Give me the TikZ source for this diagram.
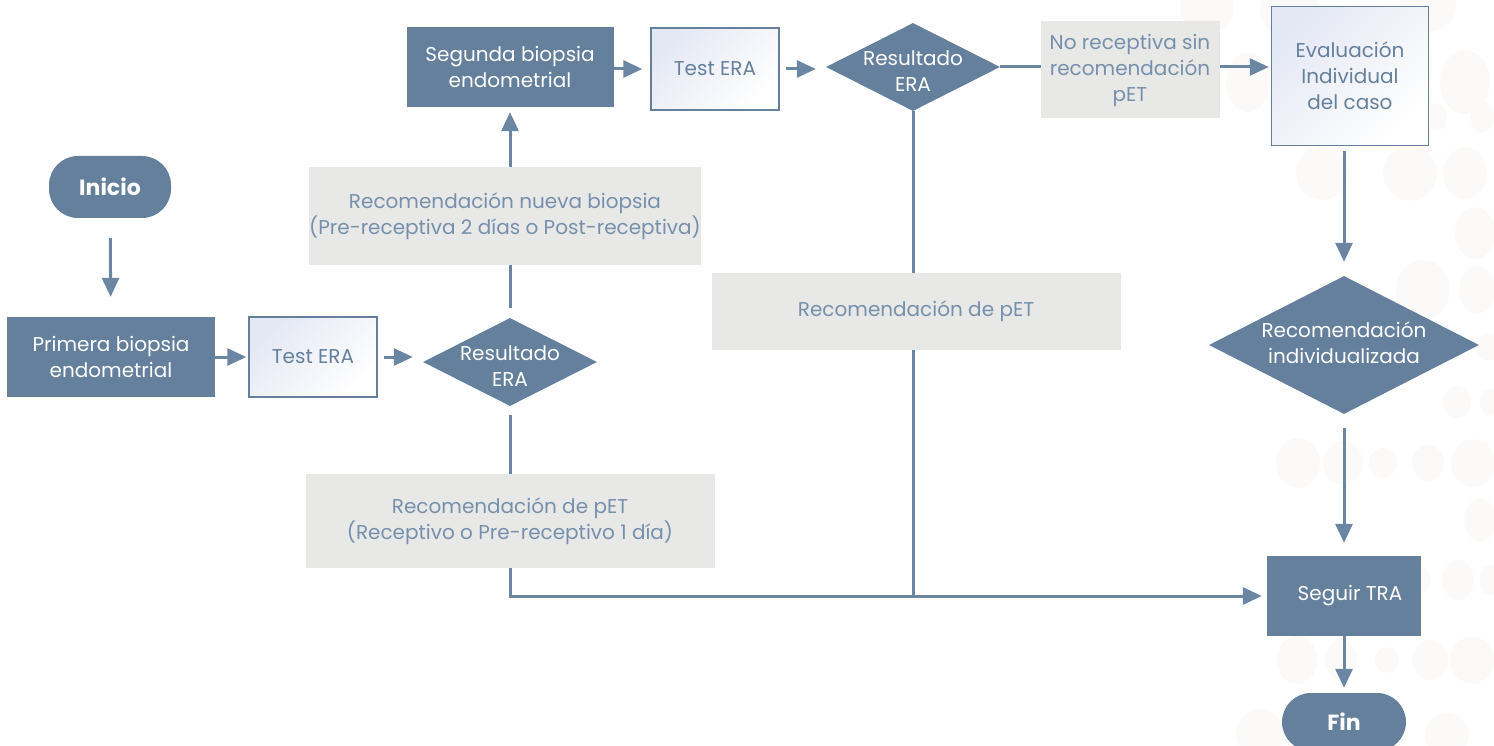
\documentclass[tikz,border=0pt]{standalone}
\usepackage{fontspec}
\setmainfont{Poppins}
\usepackage{tikz}
\usetikzlibrary{shapes.geometric}
\usetikzlibrary{arrows.meta}
\usetikzlibrary{positioning}

\definecolor{slate}{HTML}{64809C}
\definecolor{slateline}{HTML}{6A86A2}
\definecolor{slatetext}{HTML}{7590AC}
\definecolor{notegray}{HTML}{E8E8E7}
\definecolor{tint}{HTML}{E4E8F4}
\definecolor{dotc}{HTML}{FBFAF9}

\pgfdeclarelayer{deco}
\pgfdeclarelayer{edges}
\pgfsetlayers{deco,edges,main}

\begin{document}
\begin{tikzpicture}[x=1pt, y=-1pt,
        every node/.style={font=\fontsize{20}{26}\selectfont, align=center, inner sep=0pt},
        term/.style={rectangle, rounded corners=29pt, fill=slate, text=white, font=\bfseries\fontsize{22}{26}\selectfont, minimum width=122pt, minimum height=62pt},
        proc/.style={rectangle, fill=slate, text=white, minimum width=208pt, minimum height=80pt},
        test/.style={rectangle, draw=slate, line width=1.5pt, top color=tint, bottom color=white, shading angle=45, text=slate, minimum width=128pt, minimum height=80pt},
        decision/.style 2 args={diamond, fill=slate, aspect=2, minimum width=174pt, minimum height=88pt, label={[text=white, yshift=#2]center:#1}},
        note/.style={rectangle, fill=notegray, text=slatetext},
        flow/.style={draw=slateline, line width=3pt, -{Triangle[length=19pt,width=17pt]}, shorten >=5pt},
        line/.style={draw=slateline, line width=3pt}
      ]
        \useasboundingbox (0,0) rectangle (1494,746);

        \begin{pgfonlayer}{deco}
          \foreach \x/\y/\rx/\ry in {1207/8/27/26, 1290/10/30/28, 1428/6/28/26,
              1248/82/22/30, 1465/82/25/32, 1315/117/22/26, 1378/117/12/16, 1437/117/10/14, 1482/117/12/16,
              1322/173/26/27, 1410/173/27/28, 1465/173/22/26, 1475/233/20/26,
              1423/290/27/30, 1477/290/18/24, 1377/347/20/22, 1413/347/15/16, 1452/347/12/13, 1488/347/12/14,
              1457/402/14/16, 1490/402/10/14, 1298/463/22/25, 1343/463/20/22, 1383/463/14/15, 1428/463/16/18, 1473/463/22/24,
              1480/520/16/22, 1421/580/10/12, 1458/580/16/20, 1490/580/10/16,
              1297/660/20/24, 1341/660/16/20, 1387/660/12/13, 1430/660/18/20, 1472/660/22/24,
              1260/733/24/24, 1447/735/22/22}
            \fill[dotc] (\x,\y) ellipse ({\rx pt} and {\ry pt});
        \end{pgfonlayer}

        \node[term]                                                  (inicio) at (110,187)  {Inicio};
        \node[proc]                                                  (prim)   at (111,357)  {Primera biopsia\\endometrial};
        \node[test]                                                  (test1)  at (313,357)  {Test ERA};
        \node[decision={Resultado\\ERA}{-4pt}]                       (res1)   at (510,362)  {};
        \node[note, minimum width=389pt, minimum height=98pt]        (nueva)  at (505,216)  {Recomendación nueva biopsia\\(Pre-receptiva 2 días o Post-receptiva)};
        \node[note, minimum width=409pt, minimum height=94pt]        (pet1)   at (510,521)  {Recomendación de pET\\(Receptivo o Pre-receptivo 1 día)};
        \node[proc, minimum width=207pt]                             (seg)    at (510,67)   {Segunda biopsia\\endometrial};
        \node[test, minimum height=82pt]                             (test2)  at (715,69)   {Test ERA};
        \node[decision={Resultado\\ERA}{-4pt}]                       (res2)   at (913,67)   {};
        \node[note, minimum width=409pt, minimum height=77pt]        (pet2)   at (916,311)  {Recomendación de pET};
        \node[note, minimum width=179pt, minimum height=97pt]        (norec)  at (1130,70)  {No receptiva sin\\recomendación\\pET};
        \node[test, minimum width=157pt, minimum height=139pt]       (eval)   at (1350,76)  {Evaluación\\Individual\\del caso};
        \node[decision={Recomendación\\individualizada}{2pt}, minimum width=270pt, minimum height=138pt] (recind) at (1344,345) {};
        \node[proc, minimum width=154pt]                             (seguir) at (1344,596)  {\hspace{12pt}Seguir TRA};
        \node[term, minimum width=124pt, minimum height=58pt]        (fin)    at (1344,722)  {Fin};

        \begin{pgfonlayer}{edges}
          \draw[flow, shorten <=20pt, shorten >=20pt]  (inicio) -- (prim);
          \draw[flow, shorten >=2pt]                   (prim) -- (test1);
          \draw[flow, shorten <=6pt, shorten >=10pt]   (test1.east) -- (test1.east -| res1.west);
          \draw[flow, shorten <=10pt]                  (res1.north) -- (seg.south);
          \draw[flow, shorten >=8pt]                   (seg.east |- test2.west) -- (test2.west);
          \draw[flow, shorten <=6pt, shorten >=10pt]   (test2.east) -- (test2.east -| res2.west);
          \draw[flow, shorten >=2pt]                   (res2.east) -- (res2.east -| eval.west);
          \draw[flow, shorten <=5pt, shorten >=14pt]   (recind.north |- eval.south) -- (recind.north);
          \draw[flow, shorten <=14pt, shorten >=13pt]  (recind.south) -- (seguir.north);
          \draw[flow]                                  (seguir) -- (fin);
          \draw[flow, shorten <=9pt]                   (res1.south) |- (seguir.west);
          \draw[line]                                  (res2.south) -- (res2.south |- seguir.west);
        \end{pgfonlayer}
      \end{tikzpicture}
\end{document}
